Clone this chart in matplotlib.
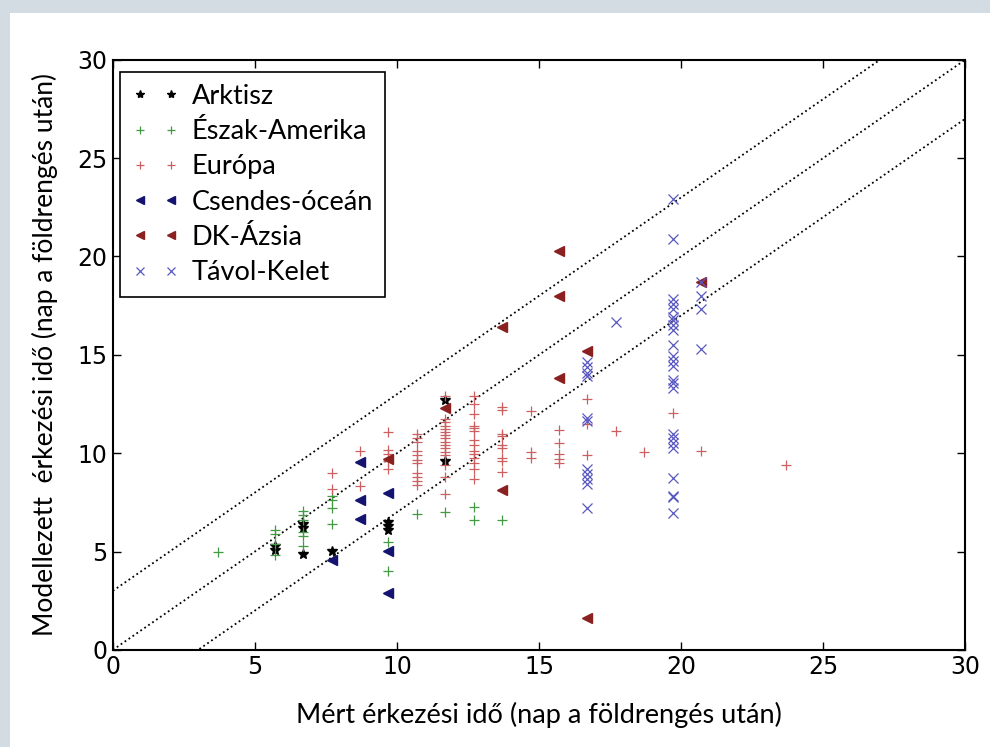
import matplotlib
matplotlib.use('Agg')
import matplotlib.pyplot as plt
from matplotlib.patches import Rectangle
import numpy as np

# measured (x) vs modelled (y) arrival time, days after the earthquake
arktisz_x = [5.7, 5.7, 6.7, 6.7, 6.7, 7.7, 9.7, 9.7, 9.7, 11.7, 11.7]
arktisz_y = [5.3, 5.1, 6.4, 6.2, 4.9, 5.05, 6.5, 6.3, 6.1, 12.7, 9.6]

eszak_x = [3.7, 5.7, 5.7, 5.7, 5.7, 6.7, 6.7, 6.7, 6.7, 6.7, 6.7,
           7.7, 7.7, 7.7, 7.7, 9.7, 9.7, 10.7, 11.7, 12.7, 12.7, 13.7]
eszak_y = [5.0, 6.1, 5.9, 5.4, 4.8, 7.05, 6.85, 6.6, 6.0, 5.8, 5.3,
           7.8, 7.6, 7.2, 6.4, 5.5, 4.0, 6.9, 7.0, 7.25, 6.6, 6.6]

europa_x = [7.7, 7.7, 8.7, 8.7,
            9.7, 9.7, 9.7, 9.7, 9.7,
            10.7, 10.7, 10.7, 10.7, 10.7, 10.7, 10.7, 10.7, 10.7, 10.7, 10.7,
            11.7, 11.7, 11.7, 11.7, 11.7, 11.7, 11.7, 11.7, 11.7, 11.7, 11.7,
            11.7, 11.7, 11.7, 11.7, 11.7,
            12.7, 12.7, 12.7, 12.7, 12.7, 12.7, 12.7, 12.7, 12.7, 12.7, 12.7,
            12.7, 12.7, 12.7,
            13.7, 13.7, 13.7, 13.7, 13.7, 13.7, 13.7, 13.7, 13.7,
            14.7, 14.7, 14.7,
            15.7, 15.7, 15.7, 15.7, 15.7,
            16.7, 16.7, 16.7,
            17.7, 18.7, 19.7, 20.7, 23.7]
europa_y = [9.0, 8.2, 10.1, 8.35,
            11.1, 10.15, 9.95, 9.6, 9.2,
            11.0, 10.75, 10.55, 10.1, 9.9, 9.65, 9.5, 9.0, 8.8, 8.6, 8.4,
            12.9, 11.75, 11.6, 11.4, 11.25, 11.1, 10.9, 10.75, 10.55, 10.4, 10.25,
            10.05, 9.9, 9.4, 8.8, 7.9,
            12.9, 12.5, 12.0, 11.4, 11.3, 11.15, 10.65, 10.4, 10.1, 9.95,
            9.75, 9.5, 9.2, 8.7,
            12.35, 12.2, 11.0, 10.85, 10.4, 10.25, 9.75, 9.6, 9.05,
            12.15, 10.05, 9.75,
            11.2, 10.5, 9.95, 9.7, 9.5,
            12.75, 11.5, 9.9,
            11.15, 10.05, 12.05, 10.1, 9.4]

csendes_x = [7.7, 8.7, 8.7, 8.7, 9.7, 9.7, 9.7]
csendes_y = [4.55, 9.55, 7.6, 6.65, 8.0, 5.05, 2.9]

dk_x = [9.7, 11.7, 13.7, 13.7, 15.7, 15.7, 15.7, 16.7, 16.7, 20.7]
dk_y = [9.7, 12.3, 16.4, 8.15, 20.3, 18.0, 13.8, 15.2, 1.6, 18.7]

tavol_x = [16.7, 16.7, 16.7, 16.7, 16.7, 16.7, 16.7, 16.7, 16.7, 16.7, 16.7,
           17.7,
           19.7, 19.7, 19.7, 19.7, 19.7, 19.7, 19.7, 19.7, 19.7, 19.7, 19.7,
           19.7, 19.7, 19.7, 19.7, 19.7, 19.7, 19.7, 19.7, 19.7, 19.7, 19.7,
           19.7, 19.7,
           20.7, 20.7, 20.7, 20.7]
tavol_y = [14.65, 14.4, 14.1, 13.9, 11.8, 11.65, 9.2, 8.95, 8.7, 8.45, 7.2,
           16.65,
           22.9, 20.9, 17.85, 17.6, 17.35, 16.9, 16.75, 16.5, 16.25, 15.5, 14.95,
           14.7, 14.45, 13.7, 13.55, 13.3, 11.0, 10.75, 10.5, 10.25, 8.75, 7.8,
           7.75, 6.95,
           18.7, 18.0, 17.35, 15.3]

offsets = [3, 0, -3]

label_font = 'Lato'

fig = plt.figure(figsize=(9.9, 7.47), dpi=100)
ax = fig.add_axes([0.114, 0.130, 0.861, 0.790])

# light frame strips of the original screenshot
band = '#d3dbe3'
fig.add_artist(Rectangle((0, 1 - 13 / 747), 1, 13 / 747, transform=fig.transFigure,
                         color=band, lw=0, zorder=-5))
fig.add_artist(Rectangle((0, 0), 10 / 990, 1, transform=fig.transFigure,
                         color=band, lw=0, zorder=-5))

xx = np.array([0, 30])
for off in offsets:
    ax.plot(xx, xx + off, color='k', ls=':', lw=1.3, zorder=1)

ax.plot(arktisz_x, arktisz_y, marker='*', color='k', ls='', ms=7, label='Arktisz')
ax.plot(eszak_x, eszak_y, marker='+', color='#449944', ls='', ms=7, mew=0.9,
        label='Észak-Amerika')
ax.plot(europa_x, europa_y, marker='+', color='#cc6060', ls='', ms=7, mew=0.9,
        label='Európa')
ax.plot(csendes_x, csendes_y, marker='<', color='#141470', ls='', ms=7,
        label='Csendes-óceán')
ax.plot(dk_x, dk_y, marker='<', color='#8a2020', ls='', ms=7, label='DK-Ázsia')
ax.plot(tavol_x, tavol_y, marker='x', color='#5858c0', ls='', ms=6.5, mew=0.9,
        label='Távol-Kelet')

ax.set_xlim(0, 30)
ax.set_ylim(0, 30)
ax.set_xticks(range(0, 31, 5))
ax.set_yticks(range(0, 31, 5))
ax.tick_params(direction='in', top=True, right=True, length=6, width=1,
               labelsize=17, pad=4)
for s in ax.spines.values():
    s.set_linewidth(1.5)

ax.set_xlabel('Mért érkezési idő (nap a földrengés után)', fontsize=19.5,
              family=label_font, labelpad=16)
ax.set_ylabel('Modellezett  érkezési idő (nap a földrengés után)', fontsize=19,
              family=label_font, labelpad=14)

leg = ax.legend(loc='upper left', bbox_to_anchor=(0.008, 0.98), numpoints=2,
                fancybox=False, framealpha=1, edgecolor='k',
                prop={'family': label_font, 'size': 19.5},
                handlelength=1.75, handletextpad=0.45, labelspacing=0.38,
                borderaxespad=0, borderpad=0.45, markerscale=0.85)
leg.get_frame().set_linewidth(1.2)

fig.savefig('out.png', dpi=100)
